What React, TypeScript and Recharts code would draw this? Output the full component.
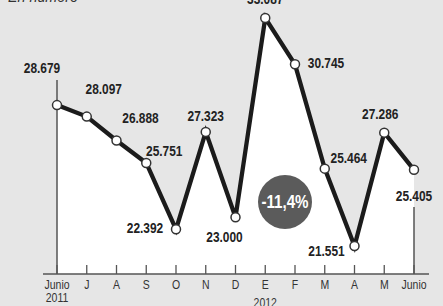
import React from 'react';
import { ComposedChart, Area, Line, XAxis, YAxis, ReferenceLine, LabelList } from 'recharts';

// monthly figures, June 2011 - June 2012
const months = ['Junio', 'J', 'A', 'S', 'O', 'N', 'D', 'E', 'F', 'M', 'A', 'M', 'Junio'];
const years = ['2011', '', '', '', '', '', '', '2012', '', '', '', '', ''];
const values = [28679, 28097, 26888, 25751, 22392, 27323, 23000, 33087, 30745, 25464, 21551, 27286, 25405];
const changeLabel = '-11,4%';
const title = 'En número';

// where each value label sits relative to its point (dx, dy)
const labelOffsets = [
  [-15, -37], [17, -27], [24, -22], [18, -12], [-31, -1], [0, -16], [-11, 20],
  [0, -19], [31, -1], [24, -11], [-28, 5], [-4, -19], [0, 26],
];

const yDomain = [20130, 34000];
const FONT = "'Liberation Sans', Arial, sans-serif";
const SQUEEZE = 0.84; // narrow the face to look condensed

const data = values.map((v, i) => ({ id: i, value: v }));

const fmt = (v: number) => v.toLocaleString('de-DE');

// svg text drawn horizontally condensed around its anchor
const NarrowText = ({ x, y, size, bold, children }: any) => (
  <text
    transform={`translate(${x},${y}) scale(${SQUEEZE},1)`}
    textAnchor="middle"
    dominantBaseline="central"
    fontFamily={FONT}
    fontSize={size}
    fontWeight={bold ? 'bold' : 'normal'}
    fill={bold ? '#222' : '#333'}
  >
    {children}
  </text>
);

const MonthTick = (props: any) => {
  const { x, y, payload } = props;
  const i = payload.value as number;
  return (
    <g>
      <line x1={x} x2={x} y1={y - 9} y2={y} stroke="#555" strokeWidth={1.3} />
      <NarrowText x={x} y={y + 11} size={12.5}>{months[i]}</NarrowText>
      {years[i] && <NarrowText x={x} y={y + (i === 0 ? 24 : 29)} size={12.5}>{years[i]}</NarrowText>}
    </g>
  );
};

const ValueLabel = (props: any) => {
  const { x, y, value, index } = props;
  const [dx, dy] = labelOffsets[index];
  return <NarrowText x={x + dx} y={y + dy} size={14.2} bold>{fmt(value)}</NarrowText>;
};

export default function App() {
  const last = values.length - 1;
  return (
    <div style={{ position: 'absolute', left: 0, top: 0, width: 443, height: 306, background: '#e6e6e6', overflow: 'hidden' }}>
      <div
        style={{
          position: 'absolute', left: 8, top: -12, fontFamily: FONT, fontStyle: 'italic', fontSize: 17,
          lineHeight: '17px', color: '#333', transform: `scale(${SQUEEZE},1)`, transformOrigin: 'left top',
        }}
      >
        {title}
      </div>
      <ComposedChart width={443} height={306} data={data} margin={{ top: 0, right: 14, bottom: 0, left: 43 }}>
        <XAxis
          dataKey="id"
          scale="point"
          padding={{ left: 14, right: 15 }}
          height={32}
          tickSize={0}
          tickMargin={0}
          tickLine={false}
          interval={0}
          axisLine={{ stroke: '#555', strokeWidth: 1.5 }}
          tick={<MonthTick />}
        />
        <YAxis hide domain={yDomain} type="number" />
        <Area type="linear" dataKey="value" fill="#ffffff" fillOpacity={1} stroke="none" isAnimationActive={false} />
        <ReferenceLine segment={[{ x: 0, y: yDomain[0] }, { x: 0, y: 29950 }]} stroke="#555" strokeWidth={1.5} />
        <ReferenceLine segment={[{ x: last, y: yDomain[0] }, { x: last, y: 23520 }]} stroke="#555" strokeWidth={1.5} />
        <Line
          type="linear"
          dataKey="value"
          stroke="#1b1b1b"
          strokeWidth={4.3}
          dot={{ r: 4.5, fill: '#fff', stroke: '#333', strokeWidth: 1.5 }}
          activeDot={false}
          isAnimationActive={false}
        >
          <LabelList dataKey="value" content={<ValueLabel />} />
        </Line>
      </ComposedChart>
      <div
        style={{
          position: 'absolute', left: 258, top: 175, width: 54, height: 54, borderRadius: '50%',
          background: '#5b5b5b', display: 'flex', alignItems: 'center', justifyContent: 'center',
        }}
      >
        <span style={{ color: '#fff', fontFamily: FONT, fontWeight: 'bold', fontSize: 18, transform: `scale(${SQUEEZE},1)`, whiteSpace: 'nowrap' }}>
          {changeLabel}
        </span>
      </div>
    </div>
  );
}
